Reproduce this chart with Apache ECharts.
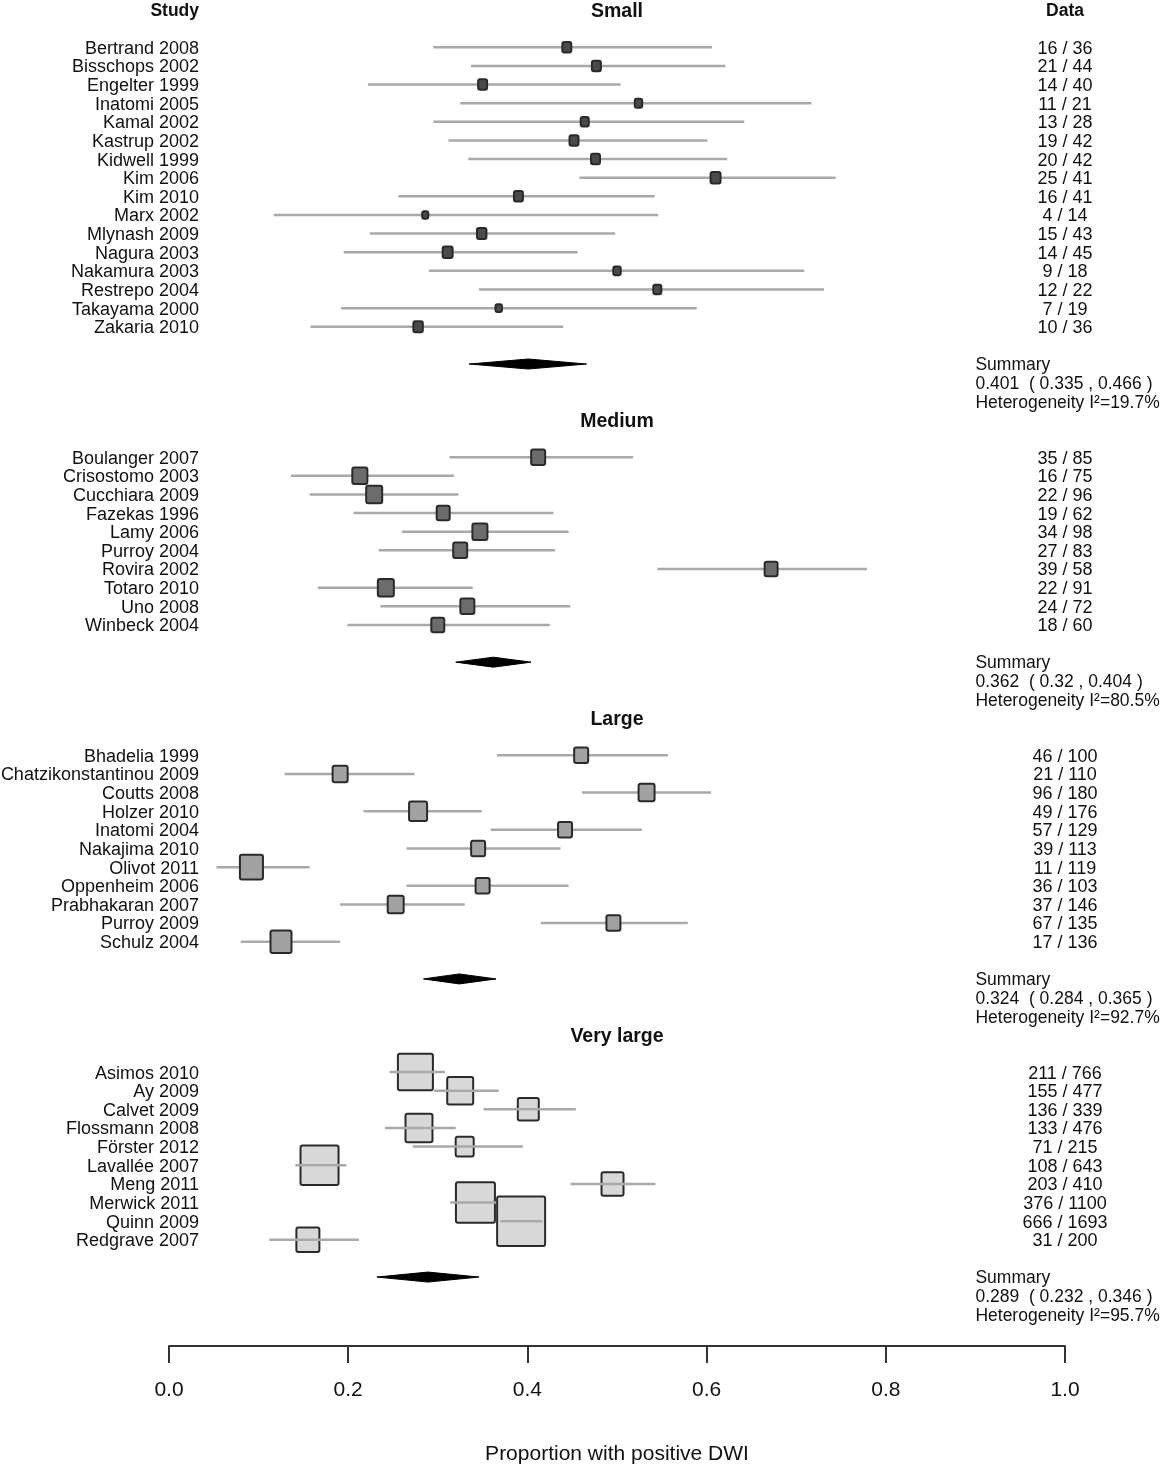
<!DOCTYPE html>
<html><head><meta charset="utf-8">
<script src="https://cdn.jsdelivr.net/npm/echarts@6/dist/echarts.min.js"></script>
<style>html,body{margin:0;padding:0;background:#fff}#c{width:1167px;height:1470px}</style>
</head><body><div id="c"></div>
<script>
// ---------------- data ----------------
const groupNames = ['Small', 'Medium', 'Large', 'Very large'];

const smallStudies = ['Bertrand 2008','Bisschops 2002','Engelter 1999','Inatomi 2005','Kamal 2002','Kastrup 2002','Kidwell 1999','Kim 2006','Kim 2010','Marx 2002','Mlynash 2009','Nagura 2003','Nakamura 2003','Restrepo 2004','Takayama 2000','Zakaria 2010'];
const smallEst = [0.444,0.477,0.350,0.524,0.464,0.452,0.476,0.610,0.390,0.286,0.349,0.311,0.500,0.545,0.368,0.278];
const smallLo  = [0.295,0.337,0.222,0.325,0.295,0.312,0.334,0.458,0.256,0.117,0.224,0.195,0.290,0.346,0.192,0.158];
const smallHi  = [0.606,0.621,0.504,0.717,0.642,0.601,0.623,0.744,0.542,0.546,0.498,0.456,0.709,0.731,0.589,0.440];
const smallEvents = [16,21,14,11,13,19,20,25,16,4,15,14,9,12,7,10];
const smallTotal  = [36,44,40,21,28,42,42,41,41,14,43,45,18,22,19,36];
const smallWeight = [3.5,3.5,3.5,2.4,2.8,3.5,3.5,4.3,3.5,1.6,3.9,4.3,2.4,2.8,1.8,3.9];

const mediumStudies = ['Boulanger 2007','Crisostomo 2003','Cucchiara 2009','Fazekas 1996','Lamy 2006','Purroy 2004','Rovira 2002','Totaro 2010','Uno 2008','Winbeck 2004'];
const mediumEst = [0.412,0.213,0.229,0.306,0.347,0.325,0.672,0.242,0.333,0.300];
const mediumLo  = [0.313,0.136,0.157,0.206,0.260,0.234,0.545,0.166,0.236,0.199];
const mediumHi  = [0.518,0.318,0.323,0.429,0.446,0.431,0.779,0.339,0.448,0.425];
const mediumEvents = [35,16,22,19,34,27,39,22,24,18];
const mediumTotal  = [85,75,96,62,98,83,58,91,72,60];
const mediumWeight = [8.5,9.8,11.1,7.3,9.8,8.5,7.3,11.1,8.5,7.3];

const largeStudies = ['Bhadelia 1999','Chatzikonstantinou 2009','Coutts 2008','Holzer 2010','Inatomi 2004','Nakajima 2010','Olivot 2011','Oppenheim 2006','Prabhakaran 2007','Purroy 2009','Schulz 2004'];
const largeEst = [0.460,0.191,0.533,0.278,0.442,0.345,0.092,0.350,0.253,0.496,0.125];
const largeLo  = [0.366,0.129,0.461,0.217,0.359,0.265,0.053,0.265,0.191,0.415,0.080];
const largeHi  = [0.557,0.274,0.605,0.349,0.528,0.437,0.157,0.446,0.330,0.579,0.191];
const largeEvents = [46,21,96,49,57,39,11,36,37,67,17];
const largeTotal  = [100,110,180,176,129,113,119,103,146,135,136];
const largeWeight = [8.5,9.8,11.1,14.1,8.5,8.5,23.0,8.5,11.1,8.5,19.1];

const vlargeStudies = ['Asimos 2010','Ay 2009','Calvet 2009','Flossmann 2008','Förster 2012','Lavallée 2007','Meng 2011','Merwick 2011','Quinn 2009','Redgrave 2007'];
const vlargeEst = [0.275,0.325,0.401,0.279,0.330,0.168,0.495,0.342,0.393,0.155];
const vlargeLo  = [0.246,0.296,0.351,0.241,0.272,0.141,0.448,0.314,0.370,0.112];
const vlargeHi  = [0.308,0.368,0.454,0.320,0.395,0.198,0.543,0.371,0.417,0.212];
const vlargeEvents = [211,155,136,133,71,108,203,376,666,31];
const vlargeTotal  = [766,477,339,476,215,643,410,1100,1693,200];
const vlargeWeight = [53.2,29.3,19.1,31.6,14.1,62.7,21.0,66.0,100,23.0];

const summaryEst = [0.401,0.362,0.324,0.289];
const summaryLo  = [0.335,0.32,0.284,0.232];
const summaryHi  = [0.466,0.404,0.365,0.346];
const summaryI2  = ['19.7%','80.5%','92.7%','95.7%'];

const xTickLabels = ['0.0','0.2','0.4','0.6','0.8','1.0'];
const xTitle = 'Proportion with positive DWI';
const colHeaders = ['Study', 'Data'];

// ---------------- layout / styles ----------------
const groups = [
  {studies: smallStudies, est: smallEst, lo: smallLo, hi: smallHi, ev: smallEvents, n: smallTotal, w: smallWeight},
  {studies: mediumStudies, est: mediumEst, lo: mediumLo, hi: mediumHi, ev: mediumEvents, n: mediumTotal, w: mediumWeight},
  {studies: largeStudies, est: largeEst, lo: largeLo, hi: largeHi, ev: largeEvents, n: largeTotal, w: largeWeight},
  {studies: vlargeStudies, est: vlargeEst, lo: vlargeLo, hi: vlargeHi, ev: vlargeEvents, n: vlargeTotal, w: vlargeWeight}
];
const FONT = '"Liberation Sans", Arial, Helvetica, sans-serif';
const FILLS = ['#4a4a4a', '#6c6c6c', '#a2a2a2', '#d8d8d8'];
const BOX_K = 4.8;
const NAME_X = 0.0335, DATA_X = 1.0, SUM_X = 0.9, HEAD_X = 0.5;
const TEXT_DY = 1.5;

const rows = [], sums = [], heads = [];
let r = 0;
groups.forEach((g, gi) => {
  heads.push({row: r, gi});
  g.studies.forEach((s, i) => rows.push({row: r + 2 + i, gi, i}));
  const d = r + 2 + g.studies.length + 1;
  sums.push({row: d, gi});
  r = d + 3;
});

function txt(x, y, text, align, size, bold) {
  return {type: 'text', style: {text, x, y: y + TEXT_DY, align, verticalAlign: 'middle', textAlign: align, textVerticalAlign: 'middle',
    fontSize: size, fontFamily: FONT, fontWeight: bold ? 'bold' : 'normal', fill: '#111'}};
}

const chart = echarts.init(document.getElementById('c'), null, {renderer: 'canvas'});
chart.setOption({
  animation: false,
  backgroundColor: '#fff',
  grid: {left: 169, right: 102, top: 10, bottom: 122},
  xAxis: {
    type: 'value', min: 0, max: 1, interval: 0.2, position: 'bottom',
    axisLine: {show: true, onZero: false, lineStyle: {color: '#333', width: 2}},
    axisTick: {show: true, length: 17, lineStyle: {color: '#333', width: 2}},
    splitLine: {show: false},
    axisLabel: {margin: 34, fontSize: 21, fontFamily: FONT, color: '#111',
      formatter: v => xTickLabels[Math.round(v / 0.2)]},
    name: xTitle, nameLocation: 'middle', nameGap: 98,
    nameTextStyle: {fontSize: 21, fontFamily: FONT, color: '#111'}
  },
  yAxis: {type: 'value', inverse: true, min: 0, max: 71.7, show: false},
  series: [
    { // study boxes and CI lines
      type: 'custom', clip: false,
      data: rows.map(o => { const g = groups[o.gi]; return [g.est[o.i], o.row, g.lo[o.i], g.hi[o.i], g.w[o.i], o.gi]; }),
      renderItem(params, api) {
        const est = api.value(0), row = api.value(1), lo = api.value(2), hi = api.value(3), w = api.value(4), gi = api.value(5);
        const p = api.coord([est, row]), pl = api.coord([lo, row]), ph = api.coord([hi, row]);
        const s = BOX_K * Math.sqrt(w), h = s + 1.5;
        const line = {type: 'line', shape: {x1: pl[0], y1: p[1], x2: ph[0], y2: p[1]}, style: {stroke: '#a9a9a9', lineWidth: 2.5}};
        const rect = {type: 'rect', shape: {x: p[0] - s / 2, y: p[1] - h / 2, width: s, height: h, r: 2},
          style: {fill: FILLS[gi], stroke: '#2a2a2a', lineWidth: 2}};
        return {type: 'group', children: gi === 3 ? [rect, line] : [line, rect]};
      }
    },
    { // study names and data
      type: 'custom', clip: false,
      data: rows.map(o => [o.row]),
      renderItem(params, api) {
        const o = rows[params.dataIndex], g = groups[o.gi];
        const a = api.coord([NAME_X, o.row]), b = api.coord([DATA_X, o.row]);
        return {type: 'group', children: [
          txt(a[0], a[1], g.studies[o.i], 'right', 18, false),
          txt(b[0], b[1], g.ev[o.i] + ' / ' + g.n[o.i], 'center', 18, false)
        ]};
      }
    },
    { // summary diamonds + text
      type: 'custom', clip: false,
      data: sums.map(o => [summaryEst[o.gi], o.row, summaryLo[o.gi], summaryHi[o.gi]]),
      renderItem(params, api) {
        const o = sums[params.dataIndex], gi = o.gi;
        const p = api.coord([api.value(0), o.row]), pl = api.coord([api.value(2), o.row]), ph = api.coord([api.value(3), o.row]);
        const hh = 5;
        const dia = {type: 'polygon', shape: {points: [[pl[0], p[1]], [p[0], p[1] - hh], [ph[0], p[1]], [p[0], p[1] + hh]]},
          style: {fill: '#000', stroke: '#000', lineWidth: 1}};
        const t0 = api.coord([SUM_X, o.row]), t1 = api.coord([SUM_X, o.row + 1]), t2 = api.coord([SUM_X, o.row + 2]);
        return {type: 'group', children: [
          dia,
          txt(t0[0], t0[1], 'Summary', 'left', 17.5, false),
          txt(t1[0], t1[1], summaryEst[gi] + '  ( ' + summaryLo[gi] + ' , ' + summaryHi[gi] + ' )', 'left', 17.5, false),
          txt(t2[0], t2[1], 'Heterogeneity I\u00B2=' + summaryI2[gi], 'left', 17.5, false)
        ]};
      }
    },
    { // headers
      type: 'custom', clip: false,
      data: heads.map(o => [HEAD_X, o.row]),
      renderItem(params, api) {
        const o = heads[params.dataIndex];
        const p = api.coord([HEAD_X, o.row]);
        const ch = [txt(p[0], p[1], groupNames[o.gi], 'center', 19.5, true)];
        if (o.gi === 0) {
          const a = api.coord([NAME_X, o.row]), b = api.coord([DATA_X, o.row]);
          ch.push(txt(a[0], a[1], colHeaders[0], 'right', 17.5, true));
          ch.push(txt(b[0], b[1], colHeaders[1], 'center', 17.5, true));
        }
        return {type: 'group', children: ch};
      }
    }
  ]
});
</script></body></html>
